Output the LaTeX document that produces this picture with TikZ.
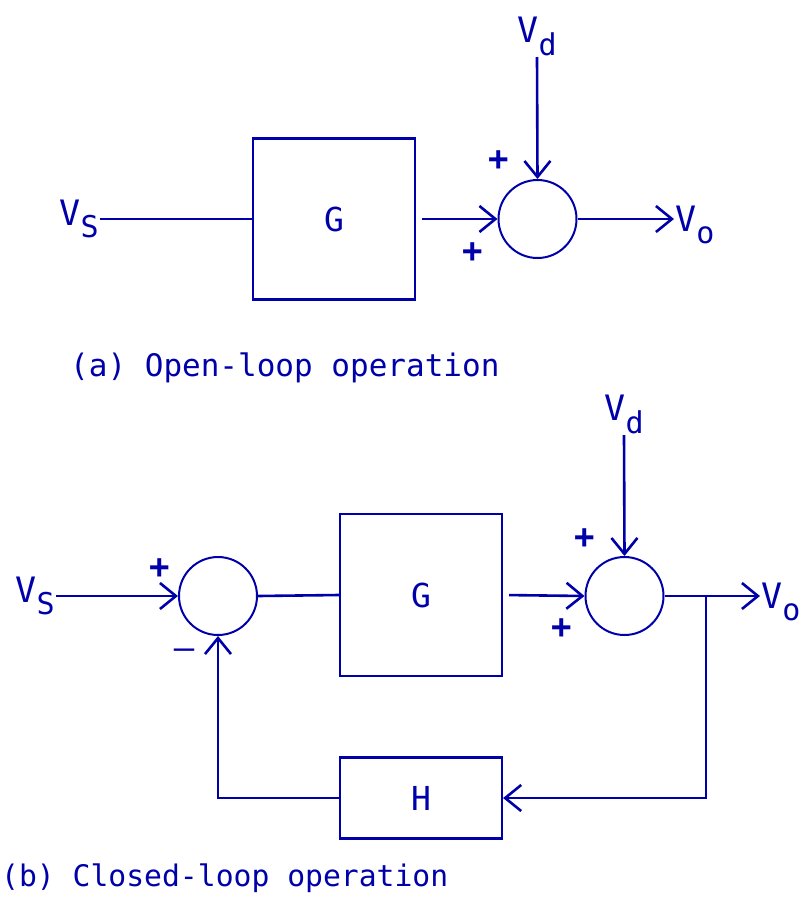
\documentclass[tikz,border=0pt]{standalone}
\usepackage{fontspec}
\setmainfont{DejaVu Sans Mono}
\usetikzlibrary{arrows.meta}
\definecolor{plotblue}{RGB}{0,0,170}
\newcommand\lowsub[1]{\raisebox{-0.36em}{\fontsize{30}{30}\selectfont #1}}

\begin{document}
\begin{tikzpicture}[x=1pt,y=-1pt,
  every node/.style={text=plotblue},
  blk/.style={draw=plotblue, line width=2.2pt, minimum width=162pt, minimum height=161pt, inner sep=0pt, font=\fontsize{33}{33}\selectfont},
  sumj/.style={draw=plotblue, circle, line width=2pt, minimum size=78pt, inner sep=0pt},
  lbl/.style={font=\fontsize{35}{35}\selectfont, inner sep=1pt},
  sgn/.style={font=\fontsize{34}{34}\selectfont\bfseries, inner sep=0pt},
  caption/.style={font=\fontsize{31}{31}\selectfont, anchor=west, inner sep=0pt},
  wire/.style={draw=plotblue, line width=2.6pt},
  arr/.style={wire, -{Straight Barb[length=16pt,width=26pt]}}
]
\useasboundingbox (0,0) rectangle (803,897);

% (a) open loop
\node[blk] (ga) at (334,219) {G};
\node[sumj] (sa) at (537.5,219) {};
\node[lbl, anchor=east] (vsa) at (100,219) {V\lowsub{S}};
\node[lbl, anchor=south] (vda) at (537,57) {V\lowsub{d}};
\node[lbl, anchor=west] (voa) at (674,225) {V\lowsub{o}};
\node[sgn] (pa1) at (499,161) {+};
\node[sgn] (pa2) at (473,253) {+};
\node[caption] (capa) at (70,368) {(a) Open-loop operation};

\draw[wire] (vsa.east) -- (ga.west);
\draw[arr, shorten <=6pt] (ga.east) -- (sa.west);
\draw[arr] (vda.south) -- (sa.north);
\draw[arr] (sa.east) -- (sa.east -| voa.west);

% (b) closed loop
\node[sumj] (s1b) at (218,596) {};
\node[blk, minimum height=162pt] (gb) at (421,595) {G};
\node[sumj] (s2b) at (624.5,596) {};
\node[blk, minimum height=81pt] (hb) at (421,798) {H};
\node[lbl, anchor=east] (vsb) at (56,596) {V\lowsub{S}};
\node[lbl, anchor=south] (vdb) at (624,435) {V\lowsub{d}};
\node[lbl, anchor=west] (vob) at (760,602) {V\lowsub{o}};
\coordinate (brb) at (706,596);
\node[sgn] (pb1) at (160,569) {+};
\node[sgn, font=\fontsize{34}{34}\selectfont] (mb1) at (184,654) {–};
\node[sgn] (pb2) at (585,539) {+};
\node[sgn] (pb3) at (562,629) {+};
\node[caption, font=\fontsize{29.7}{29.7}\selectfont] (capb) at (1,878) {(b) Closed-loop operation};

\draw[arr] (vsb.east) -- (s1b.west);
\draw[wire] (s1b.east) -- (gb.west);
\draw[arr, shorten <=6pt] (gb.east) -- (s2b.west);
\draw[arr] (vdb.south) -- (s2b.north);
\draw[arr] (s2b.east) -- (s2b.east -| vob.west);
\draw[arr] (brb) |- (hb.east);
\draw[arr] (hb.west) -| (s1b.south);
\end{tikzpicture}
\end{document}
